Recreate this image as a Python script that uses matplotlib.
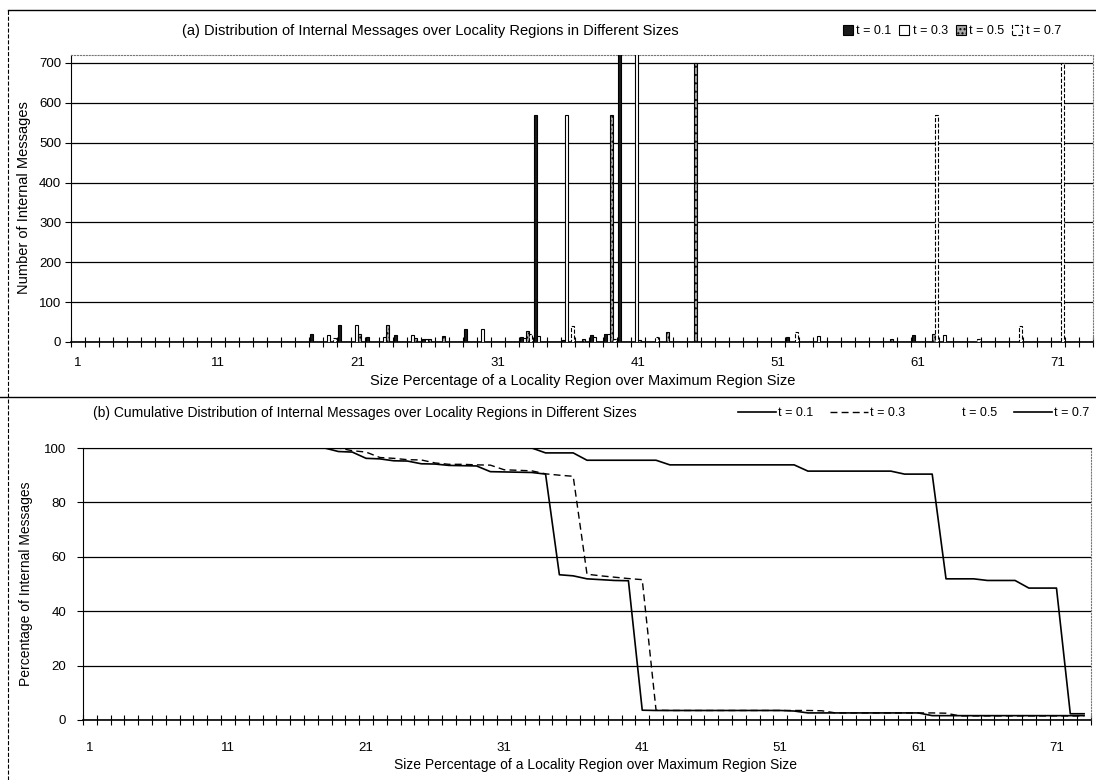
import numpy as np
import matplotlib
matplotlib.use('Agg')
import matplotlib.pyplot as plt
from matplotlib.lines import Line2D
from matplotlib.patches import Patch

plt.rcParams['font.family'] = ['Liberation Sans', 'DejaVu Sans']

W, H = 1096, 780

# region size percentages (x categories)
sizes = list(range(1, 74))
x_tick_labels = [1, 11, 21, 31, 41, 51, 61, 71]
series = ['t = 0.1', 't = 0.3', 't = 0.5', 't = 0.7']

# (a) number of internal messages per region size
msgs_t01 = [0, 0, 0, 0, 0, 0, 0, 0, 0, 0,
            0, 0, 0, 0, 0, 0, 0, 20, 0, 42,
            0, 12, 0, 17, 0, 8, 0, 0, 32, 0,
            0, 0, 12, 570, 0, 6, 0, 18, 19, 740,
            0, 0, 0, 0, 0, 0, 0, 0, 0, 0,
            0, 12, 0, 0, 0, 0, 0, 0, 0, 0,
            17, 0, 0, 0, 0, 0, 0, 0, 0, 0,
            0, 0, 0]
msgs_t03 = [0, 0, 0, 0, 0, 0, 0, 0, 0, 0,
            0, 0, 0, 0, 0, 0, 0, 0, 18, 0,
            42, 0, 12, 0, 18, 8, 0, 0, 0, 32,
            0, 0, 10, 15, 0, 570, 0, 12, 19, 0,
            722, 0, 0, 0, 0, 0, 0, 0, 0, 0,
            0, 0, 0, 14, 0, 0, 0, 0, 0, 0,
            0, 0, 18, 0, 0, 0, 0, 0, 0, 0,
            0, 0, 0]
msgs_t05 = [0, 0, 0, 0, 0, 0, 0, 0, 0, 0,
            0, 0, 0, 0, 0, 0, 0, 0, 0, 0,
            20, 0, 43, 0, 10, 8, 15, 0, 0, 0,
            0, 0, 27, 0, 0, 0, 8, 0, 570, 0,
            6, 0, 25, 0, 700, 0, 0, 0, 0, 0,
            0, 0, 0, 0, 0, 0, 0, 0, 7, 0,
            0, 20, 0, 0, 0, 0, 0, 0, 0, 0,
            0, 0, 0]
msgs_t07 = [0, 0, 0, 0, 0, 0, 0, 0, 0, 0,
            0, 0, 0, 0, 0, 0, 0, 0, 10, 0,
            0, 0, 0, 0, 0, 0, 0, 0, 0, 0,
            0, 0, 20, 0, 0, 40, 0, 0, 8, 0,
            0, 12, 0, 0, 0, 0, 0, 0, 0, 0,
            0, 25, 0, 0, 0, 0, 0, 0, 0, 0,
            0, 570, 0, 0, 8, 0, 0, 40, 0, 0,
            700, 0, 0]

# (b) cumulative percentage of internal messages
cum_t01 = [100] * 18 + [98.7, 98.5, 96.2, 96, 95.3, 95.2, 94.2, 94.1, 93.6, 93.5,
                        93.4, 91.3, 91.2, 91.1, 91, 90.4, 53.4, 53, 51.9, 51.6,
                        51.3, 51.2, 3.6] + [3.5] * 10 + [3.3] + [2.6] * 9 + [1.6] * 12
cum_t03 = [100] * 19 + [99, 98.5, 96.5, 96.2, 95.7, 95.6, 94.5, 94, 94, 93.8,
                        93.7, 92, 91.8, 91.6, 90.5, 90, 89.6, 53.6, 53, 52.5,
                        52, 51.6, 3.6] + [3.5] * 11 + [3.4] + [2.6] * 8 + [2.5] + [1.5] * 10
cum_t07 = ([100] * 33 + [98.2] * 3 + [95.5] * 6 + [93.8] * 10 + [91.5] * 7
           + [90.4] * 3 + [51.9] * 3 + [51.3] * 3 + [48.5] * 3 + [2.3] * 2)

fig = plt.figure(figsize=(W / 100, H / 100), dpi=100)

# ---------- (a) bar chart ----------
ax1 = fig.add_axes([71 / W, 1 - 342 / H, (1093 - 71) / W, (342 - 55) / H])
x = np.array(sizes)
bar_w = 0.2
styles = [dict(facecolor='#1a1a1a', edgecolor='black'),
          dict(facecolor='white', edgecolor='black'),
          dict(facecolor='#a8a8a8', edgecolor='black', hatch='....'),
          dict(facecolor='white', edgecolor='black', linestyle='--')]
for i, vals in enumerate([msgs_t01, msgs_t03, msgs_t05, msgs_t07]):
    ax1.bar(x + (i - 1.5) * bar_w, vals, width=bar_w, linewidth=0.8,
            zorder=3, **styles[i])

ax1.set_xlim(0.5, len(sizes) + 0.5)
ax1.set_ylim(0, 720)
ax1.set_yticks(range(0, 701, 100))
ax1.set_xticks(x_tick_labels)
ax1.set_xticks(np.arange(0.5, len(sizes) + 1), minor=True)
ax1.tick_params(axis='x', which='major', length=0, pad=11, labelsize=9.5)
ax1.tick_params(axis='x', which='minor', direction='inout', length=7, width=0.8)
ax1.tick_params(axis='y', direction='out', length=4, pad=3, labelsize=9.5)
ax1.yaxis.grid(True, color='black', linewidth=0.9)
ax1.set_axisbelow(True)
for s in ['top', 'right']:
    ax1.spines[s].set_linestyle(':')
    ax1.spines[s].set_color('#777777')
    ax1.spines[s].set_linewidth(0.8)
ax1.spines['bottom'].set_linewidth(1.2)

handles_a = [Patch(linewidth=0.8, **st) for st in styles]
ax1.legend(handles_a, series, loc='center right', ncol=4, frameon=False,
           bbox_to_anchor=(1066 / W, 1 - 31 / H), bbox_transform=fig.transFigure,
           handlelength=0.8, handleheight=0.8, handletextpad=0.3,
           columnspacing=0.6, fontsize=9, borderaxespad=0)

fig.text(430 / W, 1 - 31 / H,
         '(a) Distribution of Internal Messages over Locality Regions in Different Sizes',
         ha='center', va='center', fontsize=10.5)
fig.text(583 / W, 1 - 381 / H,
         'Size Percentage of a Locality Region over Maximum Region Size',
         ha='center', va='center', fontsize=10.5)
fig.text(24 / W, 1 - 198 / H, 'Number of Internal Messages', rotation=90,
         ha='center', va='center', fontsize=10.5)

# ---------- (b) cumulative lines ----------
ax2 = fig.add_axes([83 / W, 1 - 720 / H, (1091 - 83) / W, (720 - 448) / H])
ax2.plot(sizes, cum_t01, color='black', linewidth=1.2, zorder=3)
ax2.plot(sizes, cum_t03, color='black', linewidth=1.0, dashes=(5, 3), zorder=3)
ax2.plot(sizes, cum_t07, color='black', linewidth=1.2, zorder=3)

ax2.set_xlim(0.5, len(sizes) + 0.5)
ax2.set_ylim(0, 100)
ax2.set_yticks(range(0, 101, 20))
ax2.set_xticks(x_tick_labels)
ax2.set_xticks(np.arange(0.5, len(sizes) + 1), minor=True)
ax2.tick_params(axis='x', which='major', length=0, pad=16, labelsize=9.5)
ax2.tick_params(axis='x', which='minor', direction='inout', length=7, width=0.8)
ax2.tick_params(axis='y', direction='out', length=4, pad=8, labelsize=9.5)
ax2.yaxis.grid(True, color='black', linewidth=0.9)
ax2.set_axisbelow(True)
ax2.spines['right'].set_linestyle(':')
ax2.spines['right'].set_color('#777777')
ax2.spines['right'].set_linewidth(0.8)
ax2.spines['bottom'].set_linewidth(1.2)

handles_b = [Line2D([], [], color='black', linewidth=1.2),
             Line2D([], [], color='black', linewidth=1.0, dashes=(5, 3)),
             Line2D([], [], color='white', linewidth=1.2),
             Line2D([], [], color='black', linewidth=1.2)]
ax2.legend(handles_b, series, loc='center right', ncol=4, frameon=False,
           bbox_to_anchor=(1094 / W, 1 - 413 / H), bbox_transform=fig.transFigure,
           handlelength=3.0, handletextpad=0.15, columnspacing=1.4,
           fontsize=9, borderaxespad=0)

fig.text(93 / W, 1 - 413 / H,
         '(b) Cumulative Distribution of Internal Messages over Locality Regions in Different Sizes',
         ha='left', va='center', fontsize=10)
fig.text(595 / W, 1 - 765 / H,
         'Size Percentage of a Locality Region over Maximum Region Size',
         ha='center', va='center', fontsize=10)
fig.text(26 / W, 1 - 584 / H, 'Percentage of Internal Messages', rotation=90,
         ha='center', va='center', fontsize=10)

# page frame lines around the two charts
fig.add_artist(Line2D([8 / W, 1], [1 - 10 / H, 1 - 10 / H], color='black',
                      linewidth=1.0, transform=fig.transFigure))
fig.add_artist(Line2D([0, 1], [1 - 397 / H, 1 - 397 / H], color='black',
                      linewidth=1.0, transform=fig.transFigure))
fig.add_artist(Line2D([8 / W, 8 / W], [0, 1 - 10 / H], color='black',
                      linewidth=0.8, linestyle='--', transform=fig.transFigure))

fig.savefig('out.png', dpi=100)
